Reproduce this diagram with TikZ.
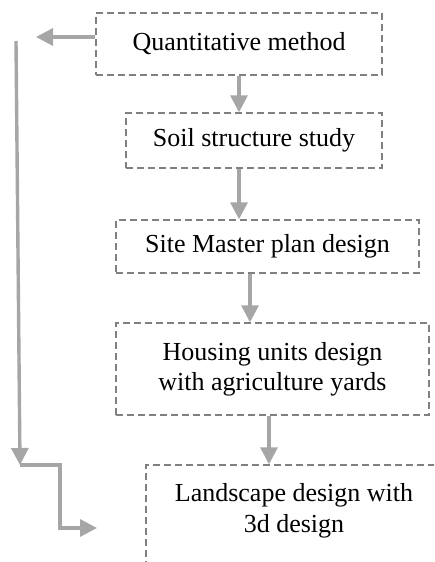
\documentclass[tikz,border=0pt]{standalone}
\usepackage{fontspec}
\setmainfont{Liberation Serif}
\usetikzlibrary{arrows.meta}
\definecolor{arrowgray}{RGB}{166,166,166}
\definecolor{boxgray}{RGB}{128,128,128}
\begin{document}
\begin{tikzpicture}[x=1pt,y=-1pt,
  dbox/.style={draw=boxgray, line width=1.4pt, dash pattern=on 7pt off 4pt, rectangle, inner sep=0pt, align=center, font=\fontsize{26}{30}\selectfont},
  txt/.style={inner sep=0pt, align=center, font=\fontsize{26}{31}\selectfont},
  flow/.style={draw=arrowgray, line width=3.4pt, -{Triangle[length=17pt,width=17pt]}},
]
\useasboundingbox (0,0) rectangle (434,562);
\clip (0,0) rectangle (434,562);
\node[dbox, minimum width=286pt, minimum height=62pt] (b1) at (239,44) {Quantitative method};
\node[dbox, minimum width=256pt, minimum height=55pt] (b2) at (254,140.5) {Soil structure study};
\node[dbox, minimum width=303pt, minimum height=53pt] (b3) at (267.5,246.5) {Site Master plan design};
\node[dbox, minimum width=313pt, minimum height=92pt] (b4) at (272.5,369) {Housing units design\\with agriculture yards};
\node[dbox, minimum width=300pt, minimum height=140pt] (b5) at (296,535) {};
\node[txt] (t5) at (294,511) {Landscape design with\\3d design};
% connectors
\draw[flow] (b1.south) -- (b1.south |- b2.north);
\draw[flow] (b2.south -| b1.south) -- (b3.north -| b1.south);
\draw[flow] ([xshift=-17.5pt]b3.south) -- ([xshift=-17.5pt]b3.south |- b4.north);
\draw[flow] ([xshift=-3.5pt]b4.south) -- ([xshift=-3.5pt]b4.south |- b5.north);
\coordinate (lt) at (36,37);
\coordinate (v1) at (16,41);
\coordinate (v2) at (20,465);
\coordinate (k1) at (60,465);
\coordinate (k2) at (60,528);
\coordinate (e5) at (97,528);
\draw[flow] (b1.west |- lt) -- (lt);
\draw[flow] (v1) -- (v2);
\draw[flow] (v2) -- (k1) -- (k2) -- (e5);
\end{tikzpicture}
\end{document}
